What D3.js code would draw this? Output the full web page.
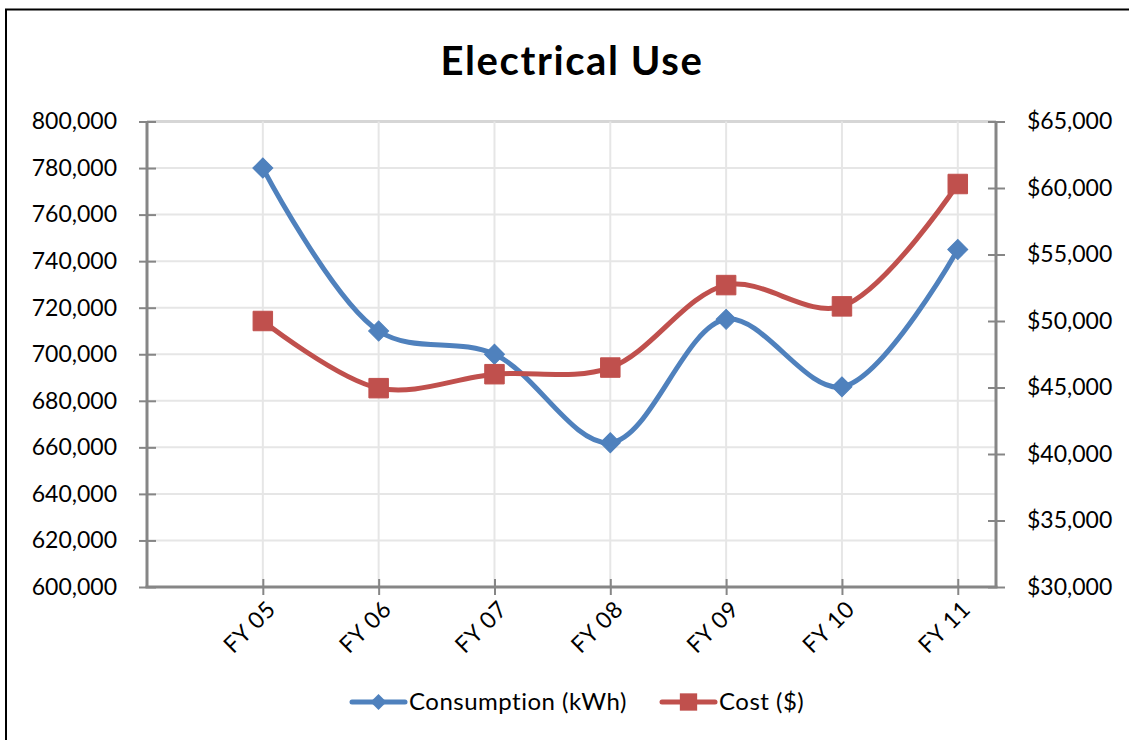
<!DOCTYPE html>
<html>
<head>
<meta charset="utf-8">
<script src="https://cdn.jsdelivr.net/npm/d3@7"></script>
<style>
  html, body { margin: 0; padding: 0; background: #fff; }
  svg { display: block; }
  text { font-family: Lato, "Open Sans", sans-serif; fill: #000; }
</style>
</head>
<body>
<svg id="chart" width="1129" height="740"></svg>
<script>
// ---- data ----
const categories = ["FY 05", "FY 06", "FY 07", "FY 08", "FY 09", "FY 10", "FY 11"];
const consumption = [780000, 710000, 700000, 662000, 715000, 686000, 745000];
const cost = [50000, 44950, 46000, 46500, 52700, 51100, 60300];
const leftTicks = [600000, 620000, 640000, 660000, 680000, 700000, 720000, 740000, 760000, 780000, 800000];
const rightTicks = [30000, 35000, 40000, 45000, 50000, 55000, 60000, 65000];
const seriesNames = ["Consumption (kWh)", "Cost ($)"];
const title = "Electrical Use";

// ---- layout ----
const svg = d3.select("#chart");
const plot = { left: 147, right: 996, top: 121.5, bottom: 587 };
const blue = "#4F81BD", red = "#C0504D";

// outer border (extends past right/bottom edges like the reference)
svg.append("rect").attr("x", 6).attr("y", 9.5).attr("width", 1140).attr("height", 760)
  .attr("fill", "#fff").attr("stroke", "#000").attr("stroke-width", 2);

// scales
const x = d3.scaleLinear().domain([-1, 6.33]).range([plot.left, plot.right]);
const yL = d3.scaleLinear().domain([600000, 800000]).range([plot.bottom, plot.top]);
const yR = d3.scaleLinear().domain([30000, 65000]).range([plot.bottom, plot.top]);

// gridlines
const g = svg.append("g");
g.selectAll("line.h").data(leftTicks).join("line")
  .attr("x1", plot.left).attr("x2", plot.right)
  .attr("y1", d => yL(d)).attr("y2", d => yL(d))
  .attr("stroke", d => d === 800000 ? "#d6d6d6" : "#e6e6e6")
  .attr("stroke-width", d => d === 800000 ? 3 : 2);
g.selectAll("line.v").data(categories).join("line")
  .attr("x1", (d, i) => x(i)).attr("x2", (d, i) => x(i))
  .attr("y1", plot.top).attr("y2", plot.bottom)
  .attr("stroke", "#e6e6e6").attr("stroke-width", 2);

// axes
const axisColor = "#868686";
const leftAxis = svg.append("g").attr("transform", `translate(${plot.left},0)`)
  .call(d3.axisLeft(yL).tickValues(leftTicks).tickSizeInner(8).tickSizeOuter(0).tickPadding(22)
    .tickFormat(d3.format(",")));
leftAxis.selectAll(".tick line").attr("x2", -8).attr("x1", 9);
const rightAxis = svg.append("g").attr("transform", `translate(${plot.right},0)`)
  .call(d3.axisRight(yR).tickValues(rightTicks).tickSizeInner(9).tickSizeOuter(0).tickPadding(22)
    .tickFormat(d => "$" + d3.format(",")(d)));
rightAxis.selectAll(".tick line").attr("x2", 9).attr("x1", -8);
const bottomAxis = svg.append("g").attr("transform", `translate(0,${plot.bottom})`)
  .call(d3.axisBottom(x).tickValues(d3.range(categories.length)).tickSizeInner(8).tickSizeOuter(0)
    .tickFormat(i => categories[i]));
bottomAxis.selectAll(".tick line").attr("y1", -8).attr("y2", 8);
bottomAxis.selectAll(".tick text")
  .attr("text-anchor", "end").attr("dy", "0.35em")
  .attr("transform", "translate(8,18) rotate(-45)")
  .attr("x", 0).attr("y", 0)
  .style("letter-spacing", "0.6px");

[leftAxis, rightAxis, bottomAxis].forEach(a => {
  a.select(".domain").attr("stroke", axisColor).attr("stroke-width", 3);
  a.selectAll(".tick line").attr("stroke", axisColor).attr("stroke-width", 2);
  a.selectAll(".tick text").style("font-size", "23px").style("font-family", "Lato, sans-serif").attr("fill", "#000");
});
// extend bottom domain to cover corners
bottomAxis.select(".domain").attr("d", `M${plot.left - 1.5},0H${plot.right + 1.5}`);
leftAxis.select(".domain").attr("d", `M0,${plot.top}V${plot.bottom}`);
rightAxis.select(".domain").attr("d", `M0,${plot.top}V${plot.bottom}`);

// lines
const curve = d3.curveCatmullRom.alpha(0.5);
const lineL = d3.line().x((d, i) => x(i)).y(d => yL(d)).curve(curve);
const lineR = d3.line().x((d, i) => x(i)).y(d => yR(d)).curve(curve);

svg.append("path").attr("d", lineL(consumption)).attr("fill", "none")
  .attr("stroke", blue).attr("stroke-width", 5).attr("stroke-linejoin", "round");
svg.append("path").attr("d", lineR(cost)).attr("fill", "none")
  .attr("stroke", red).attr("stroke-width", 5).attr("stroke-linejoin", "round");

const diamond = d3.symbol().type(d3.symbolSquare).size(200);
const square = d3.symbol().type(d3.symbolSquare).size(380);

svg.selectAll("path.mL").data(consumption).join("path")
  .attr("d", diamond())
  .attr("transform", (d, i) => `translate(${x(i)},${yL(d)}) rotate(45)`)
  .attr("fill", blue).attr("stroke", blue).attr("stroke-width", 1);
svg.selectAll("path.mR").data(cost).join("path")
  .attr("d", square())
  .attr("transform", (d, i) => `translate(${x(i)},${yR(d)})`)
  .attr("fill", red).attr("stroke", red).attr("stroke-width", 1);

// title
svg.append("text").attr("x", 572).attr("y", 75).attr("text-anchor", "middle")
  .style("font-size", "40px").style("font-weight", "bold").style("letter-spacing", "1.6px")
  .text(title);

// legend
const legendY = 702;
const legend = [
  { name: seriesNames[0], color: blue, x0: 352, sym: d3.symbol().type(d3.symbolSquare).size(130), rot: 45 },
  { name: seriesNames[1], color: red, x0: 662, sym: d3.symbol().type(d3.symbolSquare).size(300), rot: 0 }
];
legend.forEach(l => {
  svg.append("line").attr("x1", l.x0).attr("x2", l.x0 + 53).attr("y1", legendY).attr("y2", legendY)
    .attr("stroke", l.color).attr("stroke-width", 5).attr("stroke-linecap", "round");
  svg.append("path").attr("d", l.sym())
    .attr("transform", `translate(${l.x0 + 26.5},${legendY}) rotate(${l.rot})`)
    .attr("fill", l.color);
  svg.append("text").attr("x", l.x0 + 57).attr("y", legendY).attr("dy", "0.35em")
    .style("font-size", "24px").style("letter-spacing", "0.5px").text(l.name);
});
</script>
</body>
</html>
